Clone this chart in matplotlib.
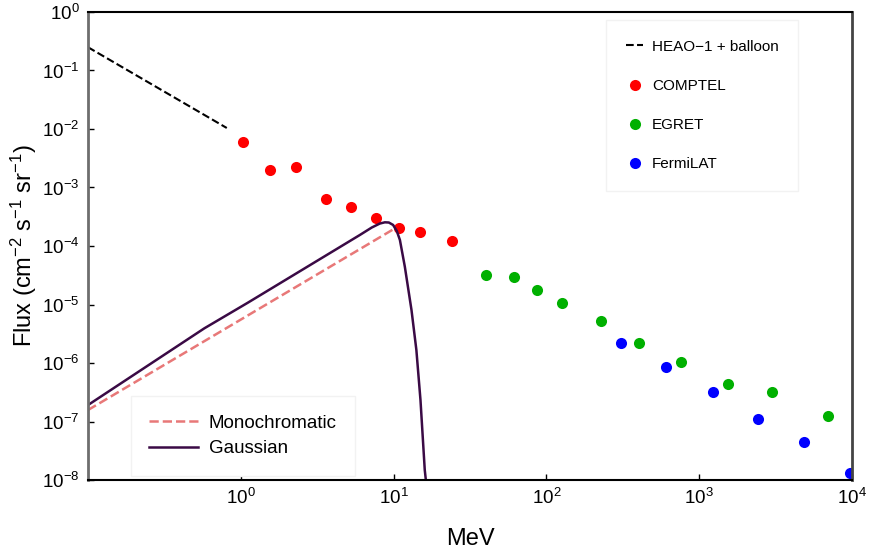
import matplotlib
matplotlib.use("Agg")
from matplotlib import pyplot as plt
from matplotlib.ticker import NullLocator

plt.rcParams['font.family'] = ['Liberation Sans', 'DejaVu Sans']
plt.rcParams['mathtext.fontset'] = 'custom'
plt.rcParams['mathtext.rm'] = 'Liberation Sans'
plt.rcParams['mathtext.it'] = 'Liberation Sans:italic'
plt.rcParams['mathtext.bf'] = 'Liberation Sans:bold'

# HEAO-1 + balloon (power law segment)
heao_e = [0.1, 0.81]
heao_f = [0.25, 0.0104]

# COMPTEL
comptel_e = [1.03, 1.55, 2.29, 3.6, 5.25, 7.65, 10.8, 14.9, 24.0]
comptel_f = [6.0e-3, 2.0e-3, 2.2e-3, 6.4e-4, 4.6e-4, 3.0e-4, 2.0e-4, 1.74e-4, 1.23e-4]

# EGRET
egret_e = [40.2, 61.2, 86.7, 126, 227, 403, 760, 1550, 2990, 6960]
egret_f = [3.2e-5, 2.95e-5, 1.77e-5, 1.06e-5, 5.2e-6, 2.2e-6, 1.04e-6, 4.4e-7, 3.2e-7, 1.24e-7]

# FermiLAT
fermi_e = [307, 604, 1230, 2425, 4850, 9700]
fermi_f = [2.2e-6, 8.5e-7, 3.2e-7, 1.1e-7, 4.5e-8, 1.3e-8]

# model curves
mono_e = [0.1, 10.2]
mono_f = [1.57e-7, 2.0e-4]

gauss_e = [0.1, 0.578, 1.11, 6.01, 7.2, 8.13, 8.77, 9.31, 9.93, 10.5, 11.0,
           11.85, 13.1, 14.1, 15.0, 16.0, 16.4]
gauss_f = [1.91e-7, 3.92e-6, 1.07e-5, 1.54e-4, 2.07e-4, 2.42e-4, 2.54e-4, 2.52e-4,
           2.29e-4, 1.80e-4, 1.27e-4, 4.43e-5, 8.05e-6, 1.67e-6, 2.33e-7, 1.48e-8, 8.2e-9]

fig = plt.figure(figsize=(8.7, 5.57), dpi=100)
ax = fig.add_axes([0.1011, 0.1382, 0.8782, 0.8403])

h_heao, = ax.plot(heao_e, heao_f, '--', color='black', lw=1.5, label='HEAO\u22121 + balloon')
h_comp, = ax.plot(comptel_e, comptel_f, 'o', color='#ff0000', ms=8, mec='none', label='COMPTEL')
h_egr, = ax.plot(egret_e, egret_f, 'o', color='#00b000', ms=8, mec='none', label='EGRET')
h_fer, = ax.plot(fermi_e, fermi_f, 'o', color='#0000ff', ms=8, mec='none', label='FermiLAT')

h_mono, = ax.plot(mono_e, mono_f, '--', color='#e87878', lw=1.8, label='Monochromatic')
h_gau, = ax.plot(gauss_e, gauss_f, '-', color='#3a0a45', lw=1.8, label='Gaussian')

ax.set_xscale('log')
ax.set_yscale('log')
ax.set_xlim(0.1, 1e4)
ax.set_ylim(1e-8, 1)
ax.set_xticks([1, 10, 100, 1000, 1e4])
ax.set_yticks([10.0**k for k in range(-8, 1)])
ax.xaxis.set_minor_locator(NullLocator())
ax.yaxis.set_minor_locator(NullLocator())
ax.tick_params(direction='in', length=4, width=1, labelsize=13.5, pad=6)

ax.set_xlabel('MeV', fontsize=17, labelpad=14)
ax.set_ylabel('Flux (cm$^{-2}$ s$^{-1}$ sr$^{-1}$)', fontsize=17, labelpad=2)

ax.spines['left'].set_color('#6e6e6e')
ax.spines['left'].set_linewidth(2)
ax.spines['right'].set_color('#444444')
ax.spines['right'].set_linewidth(2)
ax.spines['top'].set_linewidth(1.5)
ax.spines['bottom'].set_linewidth(1.5)

leg1 = ax.legend(handles=[h_heao, h_comp, h_egr, h_fer], loc='upper left',
                 bbox_to_anchor=(0.678, 0.983), borderaxespad=0, fontsize=11,
                 borderpad=1.3, labelspacing=1.65, handlelength=1.15,
                 handletextpad=0.55, fancybox=False, framealpha=1,
                 edgecolor='#f2f2f2', numpoints=1)
ax.add_artist(leg1)
ax.legend(handles=[h_mono, h_gau], loc='lower left', bbox_to_anchor=(0.056, 0.0085),
          borderaxespad=0, fontsize=13.5, borderpad=1.0, labelspacing=0.45,
          handlelength=2.6, handletextpad=0.55, fancybox=False, framealpha=1,
          edgecolor='#f2f2f2')

plt.savefig('out.png', dpi=100)
